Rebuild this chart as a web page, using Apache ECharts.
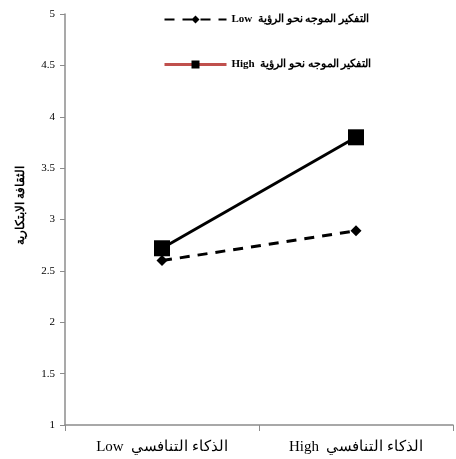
<!DOCTYPE html>
<html><head><meta charset="utf-8">
<script src="https://cdn.jsdelivr.net/npm/echarts@6/dist/echarts.min.js"></script>
<style>html,body{margin:0;padding:0;background:#fff}#c{width:456px;height:459px}</style>
</head><body><div id="c"></div>
<script>
const categories = ['Low  الذكاء التنافسي', 'High  الذكاء التنافسي'];
const seriesNames = ['Low  التفكير الموجه نحو الرؤية', 'High  التفكير الموجه نحو الرؤية'];
const lowValues = [2.6, 2.89];
const highValues = [2.72, 3.8];
const yTitle = 'الثقافة الابتكارية';
const yMin = 1, yMax = 5, yInterval = 0.5;

const font = 'Liberation Serif';
const chart = echarts.init(document.getElementById('c'), null, {renderer:'canvas'});
chart.setOption({
  animation: false,
  backgroundColor: '#fff',
  grid: {left: 65, right: 3, top: 14, bottom: 34},
  legend: {
    orient: 'vertical', left: 158, top: 9, itemWidth: 62, itemHeight: 10, itemGap: 34,
    textStyle: {fontFamily: font, fontSize: 11, fontWeight: 'bold', color: '#000'},
    data: [
      {name: seriesNames[0]},
      {name: seriesNames[1], lineStyle: {color: '#c0504d', type: 'solid', width: 3}, itemStyle: {color: '#000'}}
    ]
  },
  xAxis: {
    type: 'category', data: categories, boundaryGap: true,
    axisLine: {lineStyle: {color: '#8c8c8c', width: 1.5}},
    axisTick: {show: true, length: 6, alignWithLabel: false, lineStyle: {color: '#8c8c8c'}},
    axisLabel: {fontFamily: font, fontSize: 15, color: '#000', margin: 15}
  },
  yAxis: {
    type: 'value', min: yMin, max: yMax, interval: yInterval,
    name: yTitle, nameLocation: 'middle', nameGap: 38, nameRotate: 90,
    nameTextStyle: {fontFamily: font, fontSize: 12, fontWeight: 'bold', color: '#000', padding: [0, 0, 0, 28]},
    splitLine: {show: false},
    axisLine: {show: true, lineStyle: {color: '#8c8c8c', width: 1.5}},
    axisTick: {show: true, length: 5, lineStyle: {color: '#8c8c8c'}},
    axisLabel: {fontFamily: font, fontSize: 11, color: '#000', margin: 10}
  },
  series: [
    {name: seriesNames[0], type: 'line', data: lowValues, symbol: 'diamond', symbolSize: 11,
     lineStyle: {color: '#000', width: 3, type: [10, 8]}, itemStyle: {color: '#000'}},
    {name: seriesNames[1], type: 'line', data: highValues, symbol: 'rect', symbolSize: 16,
     lineStyle: {color: '#000', width: 3}, itemStyle: {color: '#000'}}
  ]
});
</script></body></html>
